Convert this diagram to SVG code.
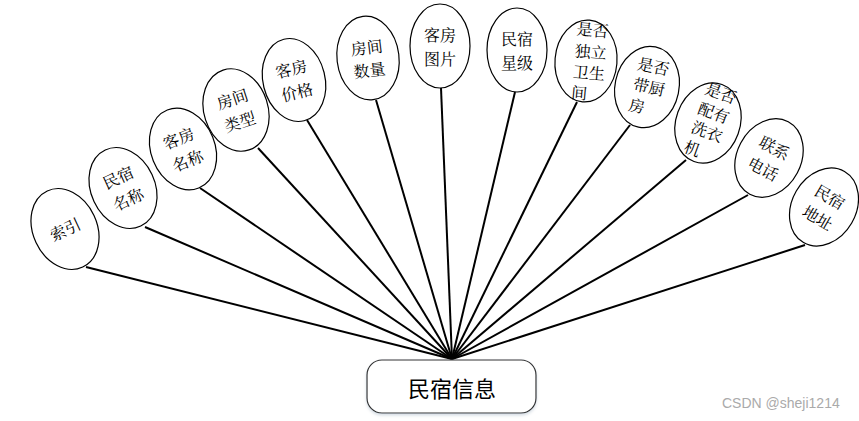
<svg xmlns="http://www.w3.org/2000/svg" width="859" height="421" viewBox="0 0 859 421">
<defs>
<style>
.n ellipse{fill:#fff;stroke:#000;stroke-width:1.2}
.n text{font-family:"Noto Serif CJK SC","Noto Sans CJK SC",sans-serif;font-size:16px;fill:#000;dominant-baseline:central;text-anchor:middle}
.n text.s{text-anchor:start}
#edges line{stroke:#000;stroke-width:2}
.hub rect{fill:#fff;stroke:#333;stroke-width:1.2}
.hub text{font-family:"Noto Sans CJK SC",sans-serif;font-size:22px;fill:#000;dominant-baseline:central;text-anchor:middle}
.wm{font-family:"Liberation Sans",Arial,sans-serif;font-size:14px;fill:#aaa}
</style>
<filter id="sh" x="-10%" y="-20%" width="120%" height="150%">
<feDropShadow dx="0" dy="2" stdDeviation="1.5" flood-color="#9ab" flood-opacity="0.4"/>
</filter>
</defs>
<g id="edges">
<line x1="86" y1="267" x2="452" y2="359"/>
<line x1="145" y1="227" x2="452" y2="359"/>
<line x1="200" y1="188" x2="452" y2="359"/>
<line x1="258" y1="148" x2="452" y2="359"/>
<line x1="307" y1="120" x2="452" y2="359"/>
<line x1="376" y1="100" x2="452" y2="359"/>
<line x1="441" y1="88" x2="452" y2="359"/>
<line x1="515" y1="92" x2="452" y2="359"/>
<line x1="577" y1="102" x2="452" y2="359"/>
<line x1="630" y1="125" x2="452" y2="359"/>
<line x1="686" y1="160" x2="452" y2="359"/>
<line x1="748" y1="195" x2="452" y2="359"/>
<line x1="805" y1="245" x2="452" y2="359"/>
</g>
<g id="n1" class="n" transform="translate(65,229) rotate(-25)">
<ellipse rx="32" ry="42"/>
<text y="0">索引</text>
</g>
<g id="n2" class="n" transform="translate(123,188) rotate(-25)">
<ellipse rx="32" ry="42"/>
<text y="-12">民宿</text>
<text y="12">名称</text>
</g>
<g id="n3" class="n" transform="translate(183,149) rotate(-22)">
<ellipse rx="32" ry="42"/>
<text y="-12">客房</text>
<text y="12">名称</text>
</g>
<g id="n4" class="n" transform="translate(236,110) rotate(-18)">
<ellipse rx="32" ry="42"/>
<text y="-12">房间</text>
<text y="12">类型</text>
</g>
<g id="n5" class="n" transform="translate(294,80) rotate(-14)">
<ellipse rx="31" ry="42"/>
<text y="-12">客房</text>
<text y="12">价格</text>
</g>
<g id="n6" class="n" transform="translate(368,58) rotate(-7)">
<ellipse rx="31" ry="42"/>
<text y="-11">房间</text>
<text y="12">数量</text>
</g>
<g id="n7" class="n" transform="translate(440,46)">
<ellipse rx="30" ry="42"/>
<text y="-12">客房</text>
<text y="12">图片</text>
</g>
<g id="n8" class="n" transform="translate(517,50)">
<ellipse rx="30" ry="42"/>
<text y="-12">民宿</text>
<text y="12">星级</text>
</g>
<g id="n9" class="n" transform="translate(586,61) rotate(5)">
<ellipse rx="31" ry="41"/>
<text class="s" x="-12" y="-32">是否</text>
<text class="s" x="-12" y="-10">独立</text>
<text class="s" x="-12" y="11">卫生</text>
<text class="s" x="-12" y="32">间</text>
</g>
<g id="n10" class="n" transform="translate(647,87) rotate(12)">
<ellipse rx="32" ry="41"/>
<text class="s" x="-14" y="-22">是否</text>
<text class="s" x="-14" y="-1">带厨</text>
<text class="s" x="-14" y="20">房</text>
</g>
<g id="n11" class="n" transform="translate(708,123) rotate(20)">
<ellipse rx="32" ry="41"/>
<text class="s" x="-14" y="-33">是否</text>
<text class="s" x="-14" y="-12">配有</text>
<text class="s" x="-14" y="8">洗衣</text>
<text class="s" x="-14" y="29">机</text>
</g>
<g id="n12" class="n" transform="translate(769,158) rotate(28)">
<ellipse rx="32" ry="41"/>
<text y="-12">联系</text>
<text y="12">电话</text>
</g>
<g id="n13" class="n" transform="translate(824,207) rotate(30)">
<ellipse rx="32" ry="41"/>
<text y="-12">民宿</text>
<text y="12">地址</text>
</g>
<g id="hub" class="hub">
<rect x="367" y="360" width="169" height="53" rx="15" filter="url(#sh)"/>
<text x="452" y="387">民宿信息</text>
</g>
<text class="wm" x="722" y="408">CSDN @sheji1214</text>
</svg>
